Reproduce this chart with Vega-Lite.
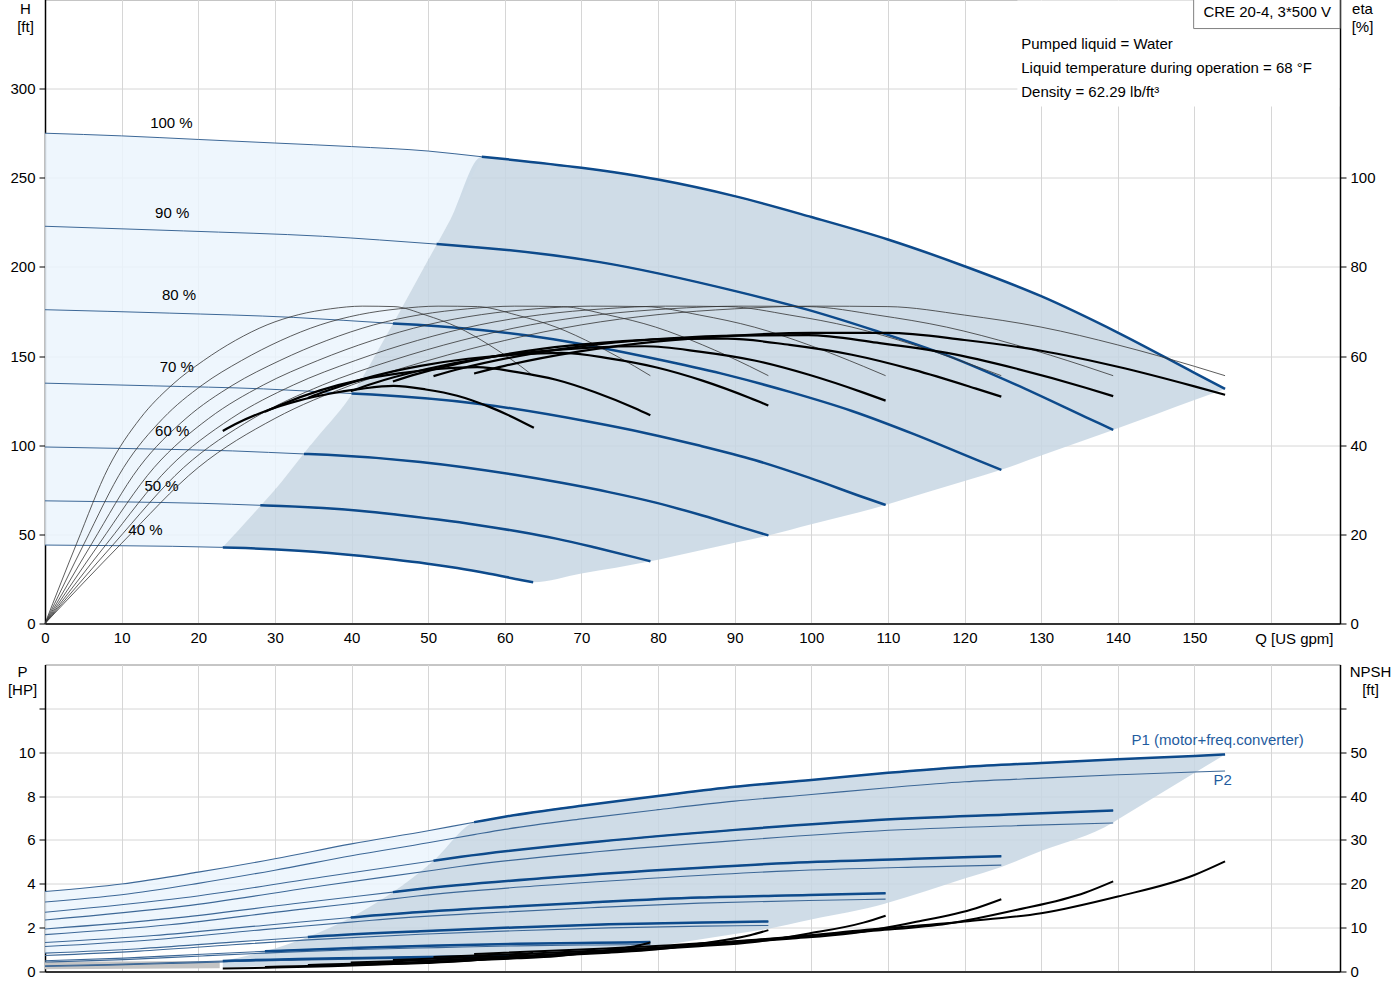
{
"$schema": "https://vega.github.io/schema/vega-lite/v6.json",
"background": "white",
"padding": {"left": 6, "top": -1.5, "right": 5, "bottom": 5},
"config": {
 "font": "Liberation Sans",
 "view": {"stroke": "#8C8C8C"},
 "axis": {"labelFont": "Liberation Sans", "labelFontSize": 15, "labelColor": "#000", "titleFont": "Liberation Sans", "titleFontSize": 15, "titleFontWeight": "normal", "titleColor": "#000", "gridColor": "#D6D6D6", "gridWidth": 1, "domainColor": "#000", "domainWidth": 1.5, "tickColor": "#000", "tickSize": 6, "labelPadding": 4, "labelFlush": false, "labelOverlap": false},
 "text": {"font": "Liberation Sans", "fontSize": 15}
},
"datasets": {
 "H": [
  {"s":100,"Q":0,"H":275,"op":0},{"s":100,"Q":10,"H":273.5,"op":0},{"s":100,"Q":20,"H":271.5,"op":0},{"s":100,"Q":30,"H":269.5,"op":0},{"s":100,"Q":40,"H":267.5,"op":0},{"s":100,"Q":50,"H":265,"op":0},{"s":100,"Q":57,"H":261.8,"op":1},{"s":100,"Q":60,"H":260.5,"op":1},{"s":100,"Q":70,"H":255.6,"op":1},{"s":100,"Q":80,"H":249,"op":1},{"s":100,"Q":90,"H":239.7,"op":1},{"s":100,"Q":100,"H":228,"op":1},{"s":100,"Q":110,"H":215.4,"op":1},{"s":100,"Q":120,"H":200.4,"op":1},{"s":100,"Q":130,"H":183.6,"op":1},{"s":100,"Q":140,"H":163.2,"op":1},{"s":100,"Q":150,"H":140.6,"op":1},{"s":100,"Q":154,"H":131.6,"op":1},
  {"s":90,"Q":0,"H":222.8,"op":0},{"s":90,"Q":18.1,"H":220.2,"op":0},{"s":90,"Q":36.2,"H":217.2,"op":0},{"s":90,"Q":51.1,"H":212.8,"op":1},{"s":90,"Q":54.3,"H":211.8,"op":1},{"s":90,"Q":72.4,"H":202.7,"op":1},{"s":90,"Q":90.5,"H":186,"op":1},{"s":90,"Q":99.6,"H":175.9,"op":1},{"s":90,"Q":108.6,"H":163.9,"op":1},{"s":90,"Q":117.7,"H":150.4,"op":1},{"s":90,"Q":126.7,"H":134,"op":1},{"s":90,"Q":135.8,"H":115.8,"op":1},{"s":90,"Q":139.4,"H":108.6,"op":1},
  {"s":80,"Q":0,"H":176,"op":0},{"s":80,"Q":16.2,"H":174.1,"op":0},{"s":80,"Q":32.4,"H":171.7,"op":0},{"s":80,"Q":45.4,"H":168.3,"op":1},{"s":80,"Q":48.6,"H":167.5,"op":1},{"s":80,"Q":64.8,"H":160.4,"op":1},{"s":80,"Q":81,"H":147.2,"op":1},{"s":80,"Q":89.1,"H":139.3,"op":1},{"s":80,"Q":97.2,"H":129.9,"op":1},{"s":80,"Q":105.3,"H":119.2,"op":1},{"s":80,"Q":113.4,"H":106.2,"op":1},{"s":80,"Q":121.5,"H":91.9,"op":1},{"s":80,"Q":124.8,"H":86.2,"op":1},
  {"s":70,"Q":0,"H":134.8,"op":0},{"s":70,"Q":14.2,"H":133.3,"op":0},{"s":70,"Q":28.5,"H":131.6,"op":0},{"s":70,"Q":40,"H":129,"op":1},{"s":70,"Q":42.7,"H":128.4,"op":1},{"s":70,"Q":57,"H":123,"op":1},{"s":70,"Q":71.2,"H":113,"op":1},{"s":70,"Q":78.3,"H":106.9,"op":1},{"s":70,"Q":85.4,"H":99.8,"op":1},{"s":70,"Q":92.6,"H":91.7,"op":1},{"s":70,"Q":99.7,"H":81.8,"op":1},{"s":70,"Q":106.8,"H":70.8,"op":1},{"s":70,"Q":109.7,"H":66.5,"op":1},
  {"s":60,"Q":0,"H":99,"op":0},{"s":60,"Q":12.3,"H":98,"op":0},{"s":60,"Q":24.5,"H":96.8,"op":0},{"s":60,"Q":33.8,"H":95.1,"op":1},{"s":60,"Q":36.8,"H":94.6,"op":1},{"s":60,"Q":49,"H":90.6,"op":1},{"s":60,"Q":61.3,"H":83.4,"op":1},{"s":60,"Q":67.4,"H":78.9,"op":1},{"s":60,"Q":73.6,"H":73.7,"op":1},{"s":60,"Q":79.7,"H":67.8,"op":1},{"s":60,"Q":85.8,"H":60.6,"op":1},{"s":60,"Q":92,"H":52.5,"op":1},{"s":60,"Q":94.4,"H":49.4,"op":1},
  {"s":50,"Q":0,"H":68.8,"op":0},{"s":50,"Q":10.3,"H":68.2,"op":0},{"s":50,"Q":20.5,"H":67.4,"op":0},{"s":50,"Q":28.1,"H":66.3,"op":1},{"s":50,"Q":30.8,"H":65.9,"op":1},{"s":50,"Q":41,"H":63.3,"op":1},{"s":50,"Q":51.3,"H":58.3,"op":1},{"s":50,"Q":56.4,"H":55.3,"op":1},{"s":50,"Q":61.6,"H":51.7,"op":1},{"s":50,"Q":66.7,"H":47.6,"op":1},{"s":50,"Q":71.8,"H":42.6,"op":1},{"s":50,"Q":77,"H":37.1,"op":1},{"s":50,"Q":79,"H":34.9,"op":1},
  {"s":40,"Q":0,"H":44,"op":0},{"s":40,"Q":8.3,"H":43.7,"op":0},{"s":40,"Q":16.6,"H":43.3,"op":0},{"s":40,"Q":23.2,"H":42.7,"op":1},{"s":40,"Q":24.8,"H":42.5,"op":1},{"s":40,"Q":33.1,"H":40.8,"op":1},{"s":40,"Q":41.4,"H":37.8,"op":1},{"s":40,"Q":45.5,"H":35.9,"op":1},{"s":40,"Q":49.7,"H":33.7,"op":1},{"s":40,"Q":53.8,"H":31.1,"op":1},{"s":40,"Q":58,"H":27.9,"op":1},{"s":40,"Q":62.1,"H":24.4,"op":1},{"s":40,"Q":63.7,"H":23.1,"op":1}
 ],
 "topArea": [
  {"z":"light","Q":0,"hi":275,"lo":44},{"z":"light","Q":8.3,"hi":274,"lo":43.7},{"z":"light","Q":16.6,"hi":272.2,"lo":43.3},{"z":"light","Q":23.2,"hi":270.8,"lo":42.7},{"z":"light","Q":25,"hi":270.5,"lo":51.2},{"z":"light","Q":28.1,"hi":269.9,"lo":65.9},{"z":"light","Q":29.8,"hi":269.5,"lo":74},{"z":"light","Q":33.8,"hi":268.7,"lo":95.5},{"z":"light","Q":35,"hi":268.5,"lo":101.8},{"z":"light","Q":39.8,"hi":267.5,"lo":127},{"z":"light","Q":45,"hi":266.2,"lo":165},{"z":"light","Q":50,"hi":265,"lo":204},{"z":"light","Q":52.9,"hi":264,"lo":226.6},{"z":"light","Q":57,"hi":261.8,"lo":261.8},
  {"z":"dark","Q":23.2,"hi":42.7,"lo":42.7},{"z":"dark","Q":25,"hi":51.2,"lo":42.5},{"z":"dark","Q":28.1,"hi":65.9,"lo":41.8},{"z":"dark","Q":29.8,"hi":74,"lo":41.5},{"z":"dark","Q":33.8,"hi":95.5,"lo":40.55},{"z":"dark","Q":35,"hi":101.8,"lo":40.1},{"z":"dark","Q":39.8,"hi":127,"lo":38.4},{"z":"dark","Q":45,"hi":165,"lo":36.1},{"z":"dark","Q":50,"hi":204,"lo":33.5},{"z":"dark","Q":52.9,"hi":226.6,"lo":31.7},{"z":"dark","Q":57,"hi":261.8,"lo":28.7},{"z":"dark","Q":60,"hi":260.5,"lo":26.2},{"z":"dark","Q":63.7,"hi":258.7,"lo":23.1},{"z":"dark","Q":70,"hi":255.6,"lo":28},{"z":"dark","Q":79,"hi":249.7,"lo":34.9},{"z":"dark","Q":80,"hi":249,"lo":35.8},{"z":"dark","Q":90,"hi":239.7,"lo":45.3},{"z":"dark","Q":94.4,"hi":234.6,"lo":49.4},{"z":"dark","Q":100,"hi":228,"lo":55.7},{"z":"dark","Q":109.7,"hi":215.8,"lo":66.5},{"z":"dark","Q":110,"hi":215.4,"lo":66.9},{"z":"dark","Q":120,"hi":200.4,"lo":79.9},{"z":"dark","Q":124.8,"hi":192.5,"lo":86.2},{"z":"dark","Q":130,"hi":183.6,"lo":94.2},{"z":"dark","Q":139.4,"hi":164.5,"lo":108.6},{"z":"dark","Q":140,"hi":163.2,"lo":109.5},{"z":"dark","Q":150,"hi":140.6,"lo":125.3},{"z":"dark","Q":154,"hi":131.6,"lo":131.6}
 ],
 "labels": [
  {"t":"100 %","Q":16.5,"H":281},{"t":"90 %","Q":16.6,"H":230.5},{"t":"80 %","Q":17.5,"H":184.5},{"t":"70 %","Q":17.2,"H":143.6},{"t":"60 %","Q":16.6,"H":107.7},{"t":"50 %","Q":15.2,"H":77.4},{"t":"40 %","Q":13.1,"H":52.7}
 ],
 "eta": [
  {"s":100,"k":"pump","Q":0,"e":0},{"s":100,"k":"pump","Q":10,"e":18},{"s":100,"k":"pump","Q":20,"e":35},{"s":100,"k":"pump","Q":30,"e":46},{"s":100,"k":"pump","Q":40,"e":53.5},{"s":100,"k":"pump","Q":50,"e":59},{"s":100,"k":"pump","Q":60,"e":63.5},{"s":100,"k":"pump","Q":70,"e":67},{"s":100,"k":"pump","Q":80,"e":69.3},{"s":100,"k":"pump","Q":90,"e":70.6},{"s":100,"k":"pump","Q":100,"e":71.2},{"s":100,"k":"pump","Q":110,"e":71.1},{"s":100,"k":"pump","Q":120,"e":69.2},{"s":100,"k":"pump","Q":130,"e":66.5},{"s":100,"k":"pump","Q":140,"e":62.5},{"s":100,"k":"pump","Q":150,"e":57.7},{"s":100,"k":"pump","Q":154,"e":55.6},
  {"s":90,"k":"pump","Q":0,"e":0},{"s":90,"k":"pump","Q":9.05,"e":18},{"s":90,"k":"pump","Q":18.1,"e":35},{"s":90,"k":"pump","Q":27.15,"e":46},{"s":90,"k":"pump","Q":36.2,"e":53.5},{"s":90,"k":"pump","Q":45.25,"e":59},{"s":90,"k":"pump","Q":54.3,"e":63.5},{"s":90,"k":"pump","Q":63.35,"e":67},{"s":90,"k":"pump","Q":72.4,"e":69.3},{"s":90,"k":"pump","Q":81.45,"e":70.6},{"s":90,"k":"pump","Q":90.5,"e":71.2},{"s":90,"k":"pump","Q":99.55,"e":71.1},{"s":90,"k":"pump","Q":108.6,"e":69.2},{"s":90,"k":"pump","Q":117.65,"e":66.5},{"s":90,"k":"pump","Q":126.7,"e":62.5},{"s":90,"k":"pump","Q":135.75,"e":57.7},{"s":90,"k":"pump","Q":139.4,"e":55.6},
  {"s":80,"k":"pump","Q":0,"e":0},{"s":80,"k":"pump","Q":8.1,"e":18},{"s":80,"k":"pump","Q":16.2,"e":35},{"s":80,"k":"pump","Q":24.3,"e":46},{"s":80,"k":"pump","Q":32.4,"e":53.5},{"s":80,"k":"pump","Q":40.5,"e":59},{"s":80,"k":"pump","Q":48.6,"e":63.5},{"s":80,"k":"pump","Q":56.7,"e":67},{"s":80,"k":"pump","Q":64.8,"e":69.3},{"s":80,"k":"pump","Q":72.9,"e":70.6},{"s":80,"k":"pump","Q":81,"e":71.2},{"s":80,"k":"pump","Q":89.1,"e":71.1},{"s":80,"k":"pump","Q":97.2,"e":69.2},{"s":80,"k":"pump","Q":105.3,"e":66.5},{"s":80,"k":"pump","Q":113.4,"e":62.5},{"s":80,"k":"pump","Q":121.5,"e":57.7},{"s":80,"k":"pump","Q":124.8,"e":55.6},
  {"s":70,"k":"pump","Q":0,"e":0},{"s":70,"k":"pump","Q":7.12,"e":18},{"s":70,"k":"pump","Q":14.24,"e":35},{"s":70,"k":"pump","Q":21.36,"e":46},{"s":70,"k":"pump","Q":28.48,"e":53.5},{"s":70,"k":"pump","Q":35.6,"e":59},{"s":70,"k":"pump","Q":42.72,"e":63.5},{"s":70,"k":"pump","Q":49.84,"e":67},{"s":70,"k":"pump","Q":56.96,"e":69.3},{"s":70,"k":"pump","Q":64.08,"e":70.6},{"s":70,"k":"pump","Q":71.2,"e":71.2},{"s":70,"k":"pump","Q":78.32,"e":71.1},{"s":70,"k":"pump","Q":85.44,"e":69.2},{"s":70,"k":"pump","Q":92.56,"e":66.5},{"s":70,"k":"pump","Q":99.68,"e":62.5},{"s":70,"k":"pump","Q":106.8,"e":57.7},{"s":70,"k":"pump","Q":109.7,"e":55.6},
  {"s":60,"k":"pump","Q":0,"e":0},{"s":60,"k":"pump","Q":6.13,"e":18},{"s":60,"k":"pump","Q":12.26,"e":35},{"s":60,"k":"pump","Q":18.39,"e":46},{"s":60,"k":"pump","Q":24.52,"e":53.5},{"s":60,"k":"pump","Q":30.65,"e":59},{"s":60,"k":"pump","Q":36.78,"e":63.5},{"s":60,"k":"pump","Q":42.91,"e":67},{"s":60,"k":"pump","Q":49.04,"e":69.3},{"s":60,"k":"pump","Q":55.17,"e":70.6},{"s":60,"k":"pump","Q":61.3,"e":71.2},{"s":60,"k":"pump","Q":67.43,"e":71.1},{"s":60,"k":"pump","Q":73.56,"e":69.2},{"s":60,"k":"pump","Q":79.69,"e":66.5},{"s":60,"k":"pump","Q":85.82,"e":62.5},{"s":60,"k":"pump","Q":91.95,"e":57.7},{"s":60,"k":"pump","Q":94.4,"e":55.6},
  {"s":50,"k":"pump","Q":0,"e":0},{"s":50,"k":"pump","Q":5.13,"e":18},{"s":50,"k":"pump","Q":10.26,"e":35},{"s":50,"k":"pump","Q":15.39,"e":46},{"s":50,"k":"pump","Q":20.52,"e":53.5},{"s":50,"k":"pump","Q":25.65,"e":59},{"s":50,"k":"pump","Q":30.78,"e":63.5},{"s":50,"k":"pump","Q":35.91,"e":67},{"s":50,"k":"pump","Q":41.04,"e":69.3},{"s":50,"k":"pump","Q":46.17,"e":70.6},{"s":50,"k":"pump","Q":51.3,"e":71.2},{"s":50,"k":"pump","Q":56.43,"e":71.1},{"s":50,"k":"pump","Q":61.56,"e":69.2},{"s":50,"k":"pump","Q":66.69,"e":66.5},{"s":50,"k":"pump","Q":71.82,"e":62.5},{"s":50,"k":"pump","Q":76.95,"e":57.7},{"s":50,"k":"pump","Q":79,"e":55.6},
  {"s":40,"k":"pump","Q":0,"e":0},{"s":40,"k":"pump","Q":4.14,"e":18},{"s":40,"k":"pump","Q":8.28,"e":35},{"s":40,"k":"pump","Q":12.42,"e":46},{"s":40,"k":"pump","Q":16.56,"e":53.5},{"s":40,"k":"pump","Q":20.7,"e":59},{"s":40,"k":"pump","Q":24.84,"e":63.5},{"s":40,"k":"pump","Q":28.98,"e":67},{"s":40,"k":"pump","Q":33.12,"e":69.3},{"s":40,"k":"pump","Q":37.26,"e":70.6},{"s":40,"k":"pump","Q":41.4,"e":71.2},{"s":40,"k":"pump","Q":45.54,"e":71.1},{"s":40,"k":"pump","Q":49.68,"e":69.2},{"s":40,"k":"pump","Q":53.82,"e":66.5},{"s":40,"k":"pump","Q":57.96,"e":62.5},{"s":40,"k":"pump","Q":62.1,"e":57.7},{"s":40,"k":"pump","Q":63.7,"e":55.6},
  {"s":100,"k":"total","Q":56,"e":56.1},{"s":100,"k":"total","Q":60,"e":57.8},{"s":100,"k":"total","Q":70,"e":61.1},{"s":100,"k":"total","Q":80,"e":63.3},{"s":100,"k":"total","Q":90,"e":64.6},{"s":100,"k":"total","Q":100,"e":65.2},{"s":100,"k":"total","Q":110,"e":65.2},{"s":100,"k":"total","Q":120,"e":63.6},{"s":100,"k":"total","Q":130,"e":61.2},{"s":100,"k":"total","Q":140,"e":57.6},{"s":100,"k":"total","Q":150,"e":53.2},{"s":100,"k":"total","Q":154,"e":51.3},
  {"s":90,"k":"total","Q":50.7,"e":55.5},{"s":90,"k":"total","Q":54.3,"e":57.2},{"s":90,"k":"total","Q":63.4,"e":60.5},{"s":90,"k":"total","Q":72.4,"e":62.7},{"s":90,"k":"total","Q":81.5,"e":64},{"s":90,"k":"total","Q":90.5,"e":64.6},{"s":90,"k":"total","Q":99.6,"e":64.7},{"s":90,"k":"total","Q":108.6,"e":63},{"s":90,"k":"total","Q":117.7,"e":60.7},{"s":90,"k":"total","Q":126.7,"e":57.2},{"s":90,"k":"total","Q":135.8,"e":52.9},{"s":90,"k":"total","Q":139.4,"e":51},
  {"s":80,"k":"total","Q":45.4,"e":54.3},{"s":80,"k":"total","Q":48.6,"e":56},{"s":80,"k":"total","Q":56.7,"e":59.3},{"s":80,"k":"total","Q":64.8,"e":61.6},{"s":80,"k":"total","Q":72.9,"e":63},{"s":80,"k":"total","Q":81,"e":63.8},{"s":80,"k":"total","Q":89.1,"e":63.9},{"s":80,"k":"total","Q":97.2,"e":62.5},{"s":80,"k":"total","Q":105.3,"e":60.3},{"s":80,"k":"total","Q":113.4,"e":56.9},{"s":80,"k":"total","Q":121.5,"e":52.7},{"s":80,"k":"total","Q":124.8,"e":50.9},
  {"s":70,"k":"total","Q":39.9,"e":52.1},{"s":70,"k":"total","Q":42.7,"e":53.8},{"s":70,"k":"total","Q":49.8,"e":57.1},{"s":70,"k":"total","Q":57,"e":59.5},{"s":70,"k":"total","Q":64.1,"e":61},{"s":70,"k":"total","Q":71.2,"e":61.9},{"s":70,"k":"total","Q":78.3,"e":62.2},{"s":70,"k":"total","Q":85.4,"e":61},{"s":70,"k":"total","Q":92.6,"e":59},{"s":70,"k":"total","Q":99.7,"e":55.8},{"s":70,"k":"total","Q":106.8,"e":51.8},{"s":70,"k":"total","Q":109.7,"e":50},
  {"s":60,"k":"total","Q":34.3,"e":50.6},{"s":60,"k":"total","Q":36.8,"e":52.2},{"s":60,"k":"total","Q":42.9,"e":55.5},{"s":60,"k":"total","Q":49,"e":57.8},{"s":60,"k":"total","Q":55.2,"e":59.4},{"s":60,"k":"total","Q":61.3,"e":60.3},{"s":60,"k":"total","Q":67.4,"e":60.7},{"s":60,"k":"total","Q":73.6,"e":59.5},{"s":60,"k":"total","Q":79.7,"e":57.5},{"s":60,"k":"total","Q":85.8,"e":54.5},{"s":60,"k":"total","Q":92,"e":50.6},{"s":60,"k":"total","Q":94.4,"e":48.9},
  {"s":50,"k":"total","Q":28.7,"e":47.5},{"s":50,"k":"total","Q":30.8,"e":49.1},{"s":50,"k":"total","Q":35.9,"e":52.3},{"s":50,"k":"total","Q":41,"e":54.6},{"s":50,"k":"total","Q":46.2,"e":56.1},{"s":50,"k":"total","Q":51.3,"e":57.1},{"s":50,"k":"total","Q":56.4,"e":57.5},{"s":50,"k":"total","Q":61.6,"e":56.4},{"s":50,"k":"total","Q":66.7,"e":54.7},{"s":50,"k":"total","Q":71.8,"e":51.9},{"s":50,"k":"total","Q":77,"e":48.3},{"s":50,"k":"total","Q":79,"e":46.7},
  {"s":40,"k":"total","Q":23.2,"e":43.2},{"s":40,"k":"total","Q":24.8,"e":44.7},{"s":40,"k":"total","Q":29,"e":47.8},{"s":40,"k":"total","Q":33.1,"e":50},{"s":40,"k":"total","Q":37.3,"e":51.6},{"s":40,"k":"total","Q":41.4,"e":52.7},{"s":40,"k":"total","Q":45.5,"e":53.3},{"s":40,"k":"total","Q":49.7,"e":52.5},{"s":40,"k":"total","Q":53.8,"e":51.1},{"s":40,"k":"total","Q":58,"e":48.6},{"s":40,"k":"total","Q":62.1,"e":45.4},{"s":40,"k":"total","Q":63.8,"e":43.9}
 ],
 "botArea": [
  {"z":"grey","Q":0,"hi":0.45,"lo":0.1},{"z":"grey","Q":22.8,"hi":0.48,"lo":0.15},
  {"z":"light","Q":0,"hi":3.65,"lo":0.84},{"z":"light","Q":12.3,"hi":4.11,"lo":1.04},{"z":"light","Q":20,"hi":4.53,"lo":1.23},{"z":"light","Q":24.5,"hi":4.8,"lo":1.34},{"z":"light","Q":30,"hi":5.14,"lo":1.47},{"z":"light","Q":34.3,"hi":5.43,"lo":1.57},{"z":"light","Q":39.9,"hi":5.81,"lo":2.46},{"z":"light","Q":45.4,"hi":6.14,"lo":3.62},{"z":"light","Q":50.7,"hi":6.46,"lo":5.05},{"z":"light","Q":56,"hi":6.81,"lo":6.81},
  {"z":"dark","Q":23.2,"hi":0.48,"lo":0.18},{"z":"dark","Q":28.7,"hi":0.92,"lo":0.24},{"z":"dark","Q":34.3,"hi":1.57,"lo":0.3},{"z":"dark","Q":39.9,"hi":2.46,"lo":0.35},{"z":"dark","Q":45.4,"hi":3.62,"lo":0.4},{"z":"dark","Q":50.7,"hi":5.05,"lo":0.46},{"z":"dark","Q":56,"hi":6.81,"lo":0.52},{"z":"dark","Q":60,"hi":7.06,"lo":0.56},{"z":"dark","Q":63.7,"hi":7.24,"lo":0.6},{"z":"dark","Q":70,"hi":7.56,"lo":0.81},{"z":"dark","Q":79,"hi":7.96,"lo":1.1},{"z":"dark","Q":80,"hi":8,"lo":1.16},{"z":"dark","Q":90,"hi":8.42,"lo":1.71},{"z":"dark","Q":94.4,"hi":8.56,"lo":1.95},{"z":"dark","Q":100,"hi":8.73,"lo":2.37},{"z":"dark","Q":109.7,"hi":9.05,"lo":3.1},{"z":"dark","Q":110,"hi":9.06,"lo":3.13},{"z":"dark","Q":120,"hi":9.33,"lo":4.24},{"z":"dark","Q":124.8,"hi":9.42,"lo":4.77},{"z":"dark","Q":130,"hi":9.51,"lo":5.49},{"z":"dark","Q":139.4,"hi":9.68,"lo":6.8},{"z":"dark","Q":140,"hi":9.68,"lo":6.93},{"z":"dark","Q":150,"hi":9.83,"lo":9.05},{"z":"dark","Q":154,"hi":9.9,"lo":9.9}
 ],
 "P": [
  {"s":100,"k":"P1","Q":0,"P":3.65,"op":0},{"s":100,"k":"P1","Q":10,"P":3.99,"op":0},{"s":100,"k":"P1","Q":20,"P":4.53,"op":0},{"s":100,"k":"P1","Q":30,"P":5.14,"op":0},{"s":100,"k":"P1","Q":40,"P":5.82,"op":0},{"s":100,"k":"P1","Q":50,"P":6.42,"op":0},{"s":100,"k":"P1","Q":56,"P":6.81,"op":1},{"s":100,"k":"P1","Q":60,"P":7.06,"op":1},{"s":100,"k":"P1","Q":70,"P":7.56,"op":1},{"s":100,"k":"P1","Q":80,"P":8.0,"op":1},{"s":100,"k":"P1","Q":90,"P":8.42,"op":1},{"s":100,"k":"P1","Q":100,"P":8.73,"op":1},{"s":100,"k":"P1","Q":110,"P":9.06,"op":1},{"s":100,"k":"P1","Q":120,"P":9.33,"op":1},{"s":100,"k":"P1","Q":130,"P":9.51,"op":1},{"s":100,"k":"P1","Q":140,"P":9.68,"op":1},{"s":100,"k":"P1","Q":150,"P":9.83,"op":1},{"s":100,"k":"P1","Q":154,"P":9.9,"op":1},
  {"s":100,"k":"P2","Q":0,"P":3.17,"op":0},{"s":100,"k":"P2","Q":10,"P":3.5,"op":0},{"s":100,"k":"P2","Q":20,"P":4.02,"op":0},{"s":100,"k":"P2","Q":30,"P":4.62,"op":0},{"s":100,"k":"P2","Q":40,"P":5.28,"op":0},{"s":100,"k":"P2","Q":50,"P":5.87,"op":0},{"s":100,"k":"P2","Q":56,"P":6.24,"op":1},{"s":100,"k":"P2","Q":60,"P":6.48,"op":1},{"s":100,"k":"P2","Q":70,"P":6.96,"op":1},{"s":100,"k":"P2","Q":80,"P":7.38,"op":1},{"s":100,"k":"P2","Q":90,"P":7.77,"op":1},{"s":100,"k":"P2","Q":100,"P":8.07,"op":1},{"s":100,"k":"P2","Q":110,"P":8.38,"op":1},{"s":100,"k":"P2","Q":120,"P":8.65,"op":1},{"s":100,"k":"P2","Q":130,"P":8.82,"op":1},{"s":100,"k":"P2","Q":140,"P":8.97,"op":1},{"s":100,"k":"P2","Q":150,"P":9.1,"op":1},{"s":100,"k":"P2","Q":154,"P":9.14,"op":1},
  {"s":90,"k":"P1","Q":0,"P":2.7,"op":0},{"s":90,"k":"P1","Q":18.1,"P":3.36,"op":0},{"s":90,"k":"P1","Q":36.2,"P":4.31,"op":0},{"s":90,"k":"P1","Q":50.7,"P":5.05,"op":1},{"s":90,"k":"P1","Q":54.3,"P":5.23,"op":1},{"s":90,"k":"P1","Q":72.4,"P":5.93,"op":1},{"s":90,"k":"P1","Q":90.5,"P":6.47,"op":1},{"s":90,"k":"P1","Q":108.6,"P":6.91,"op":1},{"s":90,"k":"P1","Q":126.7,"P":7.17,"op":1},{"s":90,"k":"P1","Q":139.4,"P":7.34,"op":1},
  {"s":90,"k":"P2","Q":0,"P":2.35,"op":0},{"s":90,"k":"P2","Q":18.1,"P":2.98,"op":0},{"s":90,"k":"P2","Q":36.2,"P":3.91,"op":0},{"s":90,"k":"P2","Q":50.7,"P":4.62,"op":1},{"s":90,"k":"P2","Q":54.3,"P":4.8,"op":1},{"s":90,"k":"P2","Q":72.4,"P":5.47,"op":1},{"s":90,"k":"P2","Q":90.5,"P":5.98,"op":1},{"s":90,"k":"P2","Q":108.6,"P":6.41,"op":1},{"s":90,"k":"P2","Q":126.7,"P":6.65,"op":1},{"s":90,"k":"P2","Q":139.4,"P":6.77,"op":1},
  {"s":80,"k":"P1","Q":0,"P":1.94,"op":0},{"s":80,"k":"P1","Q":16.2,"P":2.41,"op":0},{"s":80,"k":"P1","Q":32.4,"P":3.09,"op":0},{"s":80,"k":"P1","Q":45.4,"P":3.62,"op":1},{"s":80,"k":"P1","Q":48.6,"P":3.75,"op":1},{"s":80,"k":"P1","Q":64.8,"P":4.25,"op":1},{"s":80,"k":"P1","Q":81,"P":4.64,"op":1},{"s":80,"k":"P1","Q":97.2,"P":4.95,"op":1},{"s":80,"k":"P1","Q":113.4,"P":5.14,"op":1},{"s":80,"k":"P1","Q":124.8,"P":5.26,"op":1},
  {"s":80,"k":"P2","Q":0,"P":1.68,"op":0},{"s":80,"k":"P2","Q":16.2,"P":2.13,"op":0},{"s":80,"k":"P2","Q":32.4,"P":2.8,"op":0},{"s":80,"k":"P2","Q":45.4,"P":3.31,"op":1},{"s":80,"k":"P2","Q":48.6,"P":3.44,"op":1},{"s":80,"k":"P2","Q":64.8,"P":3.92,"op":1},{"s":80,"k":"P2","Q":81,"P":4.29,"op":1},{"s":80,"k":"P2","Q":97.2,"P":4.59,"op":1},{"s":80,"k":"P2","Q":113.4,"P":4.76,"op":1},{"s":80,"k":"P2","Q":124.8,"P":4.85,"op":1},
  {"s":70,"k":"P1","Q":0,"P":1.32,"op":0},{"s":70,"k":"P1","Q":14.2,"P":1.64,"op":0},{"s":70,"k":"P1","Q":28.5,"P":2.1,"op":0},{"s":70,"k":"P1","Q":39.9,"P":2.46,"op":1},{"s":70,"k":"P1","Q":42.7,"P":2.55,"op":1},{"s":70,"k":"P1","Q":57,"P":2.89,"op":1},{"s":70,"k":"P1","Q":71.2,"P":3.15,"op":1},{"s":70,"k":"P1","Q":85.4,"P":3.37,"op":1},{"s":70,"k":"P1","Q":99.7,"P":3.49,"op":1},{"s":70,"k":"P1","Q":109.7,"P":3.57,"op":1},
  {"s":70,"k":"P2","Q":0,"P":1.14,"op":0},{"s":70,"k":"P2","Q":14.2,"P":1.45,"op":0},{"s":70,"k":"P2","Q":28.5,"P":1.91,"op":0},{"s":70,"k":"P2","Q":39.9,"P":2.25,"op":1},{"s":70,"k":"P2","Q":42.7,"P":2.34,"op":1},{"s":70,"k":"P2","Q":57,"P":2.66,"op":1},{"s":70,"k":"P2","Q":71.2,"P":2.91,"op":1},{"s":70,"k":"P2","Q":85.4,"P":3.12,"op":1},{"s":70,"k":"P2","Q":99.7,"P":3.24,"op":1},{"s":70,"k":"P2","Q":109.7,"P":3.3,"op":1},
  {"s":60,"k":"P1","Q":0,"P":0.84,"op":0},{"s":60,"k":"P1","Q":12.3,"P":1.04,"op":0},{"s":60,"k":"P1","Q":24.5,"P":1.34,"op":0},{"s":60,"k":"P1","Q":34.3,"P":1.57,"op":1},{"s":60,"k":"P1","Q":36.8,"P":1.63,"op":1},{"s":60,"k":"P1","Q":49,"P":1.84,"op":1},{"s":60,"k":"P1","Q":61.3,"P":2.01,"op":1},{"s":60,"k":"P1","Q":73.6,"P":2.15,"op":1},{"s":60,"k":"P1","Q":85.8,"P":2.23,"op":1},{"s":60,"k":"P1","Q":94.4,"P":2.28,"op":1},
  {"s":60,"k":"P2","Q":0,"P":0.73,"op":0},{"s":60,"k":"P2","Q":12.3,"P":0.93,"op":0},{"s":60,"k":"P2","Q":24.5,"P":1.22,"op":0},{"s":60,"k":"P2","Q":34.3,"P":1.44,"op":1},{"s":60,"k":"P2","Q":36.8,"P":1.49,"op":1},{"s":60,"k":"P2","Q":49,"P":1.7,"op":1},{"s":60,"k":"P2","Q":61.3,"P":1.86,"op":1},{"s":60,"k":"P2","Q":73.6,"P":1.99,"op":1},{"s":60,"k":"P2","Q":85.8,"P":2.07,"op":1},{"s":60,"k":"P2","Q":94.4,"P":2.1,"op":1},
  {"s":50,"k":"P1","Q":0,"P":0.49,"op":0},{"s":50,"k":"P1","Q":10.3,"P":0.61,"op":0},{"s":50,"k":"P1","Q":20.5,"P":0.79,"op":0},{"s":50,"k":"P1","Q":28.7,"P":0.92,"op":1},{"s":50,"k":"P1","Q":30.8,"P":0.95,"op":1},{"s":50,"k":"P1","Q":41,"P":1.08,"op":1},{"s":50,"k":"P1","Q":51.3,"P":1.18,"op":1},{"s":50,"k":"P1","Q":61.6,"P":1.26,"op":1},{"s":50,"k":"P1","Q":71.8,"P":1.31,"op":1},{"s":50,"k":"P1","Q":79,"P":1.34,"op":1},
  {"s":50,"k":"P2","Q":0,"P":0.43,"op":0},{"s":50,"k":"P2","Q":10.3,"P":0.54,"op":0},{"s":50,"k":"P2","Q":20.5,"P":0.71,"op":0},{"s":50,"k":"P2","Q":28.7,"P":0.84,"op":1},{"s":50,"k":"P2","Q":30.8,"P":0.87,"op":1},{"s":50,"k":"P2","Q":41,"P":1.0,"op":1},{"s":50,"k":"P2","Q":51.3,"P":1.09,"op":1},{"s":50,"k":"P2","Q":61.6,"P":1.17,"op":1},{"s":50,"k":"P2","Q":71.8,"P":1.21,"op":1},{"s":50,"k":"P2","Q":79,"P":1.23,"op":1},
  {"s":40,"k":"P1","Q":0,"P":0.26,"op":0},{"s":40,"k":"P1","Q":8.3,"P":0.32,"op":0},{"s":40,"k":"P1","Q":16.6,"P":0.41,"op":0},{"s":40,"k":"P1","Q":23.2,"P":0.48,"op":1},{"s":40,"k":"P1","Q":24.8,"P":0.5,"op":1},{"s":40,"k":"P1","Q":33.1,"P":0.57,"op":1},{"s":40,"k":"P1","Q":41.4,"P":0.62,"op":1},{"s":40,"k":"P1","Q":49.7,"P":0.66,"op":1},{"s":40,"k":"P1","Q":58,"P":0.69,"op":1},{"s":40,"k":"P1","Q":63.7,"P":0.7,"op":1},
  {"s":40,"k":"P2","Q":0,"P":0.23,"op":0},{"s":40,"k":"P2","Q":8.3,"P":0.29,"op":0},{"s":40,"k":"P2","Q":16.6,"P":0.37,"op":0},{"s":40,"k":"P2","Q":23.2,"P":0.44,"op":1},{"s":40,"k":"P2","Q":24.8,"P":0.46,"op":1},{"s":40,"k":"P2","Q":33.1,"P":0.52,"op":1},{"s":40,"k":"P2","Q":41.4,"P":0.57,"op":1},{"s":40,"k":"P2","Q":49.7,"P":0.61,"op":1},{"s":40,"k":"P2","Q":58,"P":0.64,"op":1},{"s":40,"k":"P2","Q":63.7,"P":0.65,"op":1}
 ],
 "npsh": [
  {"s":100,"Q":56,"N":4.0},{"s":100,"Q":70,"N":5.0},{"s":100,"Q":90,"N":6.9},{"s":100,"Q":110,"N":9.9},{"s":100,"Q":120,"N":11.4},{"s":100,"Q":130,"N":13.3},{"s":100,"Q":140,"N":17.1},{"s":100,"Q":150,"N":22.0},{"s":100,"Q":154,"N":25.1},
  {"s":90,"Q":50.7,"N":3.28},{"s":90,"Q":63.4,"N":4.1},{"s":90,"Q":81.5,"N":5.65},{"s":90,"Q":99.6,"N":8.11},{"s":90,"Q":108.6,"N":9.34},{"s":90,"Q":117.7,"N":10.89},{"s":90,"Q":126.7,"N":14.0},{"s":90,"Q":135.8,"N":18.02},{"s":90,"Q":139.4,"N":20.56},
  {"s":80,"Q":45.4,"N":2.62},{"s":80,"Q":56.7,"N":3.28},{"s":80,"Q":72.9,"N":4.53},{"s":80,"Q":89.1,"N":6.49},{"s":80,"Q":97.2,"N":7.48},{"s":80,"Q":105.3,"N":8.72},{"s":80,"Q":113.4,"N":11.22},{"s":80,"Q":121.5,"N":14.43},{"s":80,"Q":124.8,"N":16.47},
  {"s":70,"Q":39.9,"N":2.03},{"s":70,"Q":49.8,"N":2.54},{"s":70,"Q":64.1,"N":3.5},{"s":70,"Q":78.3,"N":5.02},{"s":70,"Q":85.4,"N":5.78},{"s":70,"Q":92.6,"N":6.74},{"s":70,"Q":99.7,"N":8.67},{"s":70,"Q":106.8,"N":11.15},{"s":70,"Q":109.7,"N":12.73},
  {"s":60,"Q":34.3,"N":1.5},{"s":60,"Q":42.9,"N":1.88},{"s":60,"Q":55.2,"N":2.59},{"s":60,"Q":67.4,"N":3.72},{"s":60,"Q":73.6,"N":4.29},{"s":60,"Q":79.7,"N":5.0},{"s":60,"Q":85.8,"N":6.43},{"s":60,"Q":92,"N":8.27},{"s":60,"Q":94.4,"N":9.44},
  {"s":50,"Q":28.7,"N":1.05},{"s":50,"Q":35.9,"N":1.32},{"s":50,"Q":46.2,"N":1.81},{"s":50,"Q":56.4,"N":2.6},{"s":50,"Q":61.6,"N":3.0},{"s":50,"Q":66.7,"N":3.5},{"s":50,"Q":71.8,"N":4.5},{"s":50,"Q":77,"N":5.79},{"s":50,"Q":79,"N":6.6},
  {"s":40,"Q":23.2,"N":0.68},{"s":40,"Q":29,"N":0.86},{"s":40,"Q":37.3,"N":1.18},{"s":40,"Q":45.5,"N":1.69},{"s":40,"Q":49.7,"N":1.95},{"s":40,"Q":53.8,"N":2.27},{"s":40,"Q":58,"N":2.92},{"s":40,"Q":62.1,"N":3.76},{"s":40,"Q":63.7,"N":4.29}
 ],
 "plabels": [
  {"t":"P1 (motor+freq.converter)","Q":141.8,"P":10.55},{"t":"P2","Q":152.5,"P":8.73}
 ]
},
"spacing": 41,
"bounds": "flush",
"vconcat": [
 {
  "width": 1295, "height": 624,
  "resolve": {"scale": {"y": "independent"}},
  "layer": [
   {"layer": [
    {"data": {"name": "topArea"}, "transform": [{"filter": "datum.z == 'light'"}],
     "mark": {"type": "area", "color": "#EBF4FD", "opacity": 0.85, "interpolate": "monotone"},
     "encoding": {
      "x": {"field": "Q", "type": "quantitative", "scale": {"domain": [0, 169], "nice": false, "zero": false},
            "axis": {"values": [0,10,20,30,40,50,60,70,80,90,100,110,120,130,140,150,160], "labelExpr": "datum.value > 155 ? '' : datum.label", "ticks": false, "labelPadding": 7, "grid": true, "title": "Q [US gpm]", "titleX": 1288, "titleY": 15, "titleAlign": "right", "titleBaseline": "middle", "titleAngle": 0}},
      "y": {"field": "hi", "type": "quantitative", "scale": {"domain": [0, 350], "nice": false},
            "axis": {"values": [0,50,100,150,200,250,300], "grid": true, "title": ["H", "[ft]"], "titleAngle": 0, "titleX": -20, "titleY": 1.5, "titleAlign": "center", "titleBaseline": "top", "titleLineHeight": 18}},
      "y2": {"field": "lo"}
     }},
    {"data": {"name": "topArea"}, "transform": [{"filter": "datum.z == 'dark'"}],
     "mark": {"type": "area", "color": "#C7D6E3", "opacity": 0.85, "interpolate": "monotone"},
     "encoding": {
      "x": {"field": "Q", "type": "quantitative", "scale": {"domain": [0, 169], "nice": false}},
      "y": {"field": "hi", "type": "quantitative", "scale": {"domain": [0, 350], "nice": false}},
      "y2": {"field": "lo"}
     }},
    {"data": {"name": "H"},
     "mark": {"type": "line", "stroke": "#3D6897", "strokeWidth": 1, "interpolate": "monotone"},
     "encoding": {
      "x": {"field": "Q", "type": "quantitative", "scale": {"domain": [0, 169], "nice": false}},
      "y": {"field": "H", "type": "quantitative", "scale": {"domain": [0, 350], "nice": false}},
      "detail": {"field": "s", "type": "nominal"}
     }},
    {"data": {"name": "H"}, "transform": [{"filter": "datum.op == 1"}],
     "mark": {"type": "line", "stroke": "#0D4A8B", "strokeWidth": 2.5, "interpolate": "monotone"},
     "encoding": {
      "x": {"field": "Q", "type": "quantitative", "scale": {"domain": [0, 169], "nice": false}},
      "y": {"field": "H", "type": "quantitative", "scale": {"domain": [0, 350], "nice": false}},
      "detail": {"field": "s", "type": "nominal"}
     }},
    {"data": {"name": "labels"},
     "mark": {"type": "text", "align": "center", "baseline": "middle", "fontSize": 15, "color": "#000"},
     "encoding": {
      "x": {"field": "Q", "type": "quantitative", "scale": {"domain": [0, 169], "nice": false}},
      "y": {"field": "H", "type": "quantitative", "scale": {"domain": [0, 350], "nice": false}},
      "text": {"field": "t"}
     }},
    {"data": {"values": [{}]},
     "mark": {"type": "rect", "fill": "white"},
     "encoding": {
      "x": {"datum": 126.9, "type": "quantitative"}, "x2": {"datum": 168.9},
      "y": {"datum": 290, "type": "quantitative"}, "y2": {"datum": 349.5}
     }},
    {"data": {"values": [{}]},
     "mark": {"type": "text", "text": ["Pumped liquid = Water", "Liquid temperature during operation = 68 °F", "Density = 62.29 lb/ft³"], "align": "left", "baseline": "middle", "lineHeight": 24, "fontSize": 15, "color": "#000"},
     "encoding": {
      "x": {"datum": 127.4, "type": "quantitative"},
      "y": {"datum": 325.3, "type": "quantitative"}
     }},
    {"data": {"values": [{}]},
     "mark": {"type": "rect", "fill": "white", "stroke": "#808080", "strokeWidth": 1},
     "encoding": {
      "x": {"datum": 149.9, "type": "quantitative"}, "x2": {"datum": 169},
      "y": {"datum": 333.7, "type": "quantitative"}, "y2": {"datum": 350}
     }},
    {"data": {"values": [{}]},
     "mark": {"type": "text", "text": "CRE 20-4, 3*500 V", "align": "center", "baseline": "middle", "fontSize": 15, "color": "#000"},
     "encoding": {
      "x": {"datum": 159.5, "type": "quantitative"},
      "y": {"datum": 343.2, "type": "quantitative"}
     }}
   ]},
   {"layer": [
    {"data": {"name": "eta"}, "transform": [{"filter": "datum.k == 'pump'"}],
     "mark": {"type": "line", "stroke": "#333333", "strokeWidth": 0.8, "interpolate": "monotone"},
     "encoding": {
      "x": {"field": "Q", "type": "quantitative", "scale": {"domain": [0, 169], "nice": false}},
      "y": {"field": "e", "type": "quantitative", "scale": {"domain": [0, 140], "nice": false},
            "axis": {"orient": "right", "values": [0,20,40,60,80,100], "grid": false, "title": ["eta", "[%]"], "titleAngle": 0, "titleX": 22, "titleY": 1.5, "titleAlign": "center", "titleBaseline": "top", "titleLineHeight": 18}},
      "detail": {"field": "s", "type": "nominal"}
     }},
    {"data": {"name": "eta"}, "transform": [{"filter": "datum.k == 'total'"}],
     "mark": {"type": "line", "stroke": "#000000", "strokeWidth": 2.2, "interpolate": "monotone"},
     "encoding": {
      "x": {"field": "Q", "type": "quantitative", "scale": {"domain": [0, 169], "nice": false}},
      "y": {"field": "e", "type": "quantitative", "scale": {"domain": [0, 140], "nice": false}},
      "detail": {"field": "s", "type": "nominal"}
     }}
   ]}
  ]
 },
 {
  "width": 1295, "height": 307,
  "resolve": {"scale": {"y": "independent"}},
  "layer": [
   {"layer": [
    {"data": {"name": "botArea"}, "transform": [{"filter": "datum.z == 'grey'"}],
     "mark": {"type": "area", "color": "#C4C4C4"},
     "encoding": {
      "x": {"field": "Q", "type": "quantitative", "scale": {"domain": [0, 169], "nice": false, "zero": false},
            "axis": {"values": [0,10,20,30,40,50,60,70,80,90,100,110,120,130,140,150,160], "labels": false, "ticks": false, "grid": true, "title": null}},
      "y": {"field": "hi", "type": "quantitative", "scale": {"domain": [0, 14], "nice": false},
            "axis": {"values": [0,2,4,6,8,10,12], "labelExpr": "datum.value == 12 ? '' : datum.label", "grid": true, "title": ["P", "[HP]"], "titleAngle": 0, "titleX": -23, "titleY": 0, "titleAlign": "center", "titleBaseline": "top", "titleLineHeight": 18}},
      "y2": {"field": "lo"}
     }},
    {"data": {"name": "botArea"}, "transform": [{"filter": "datum.z == 'light'"}],
     "mark": {"type": "area", "color": "#EBF4FD", "opacity": 0.85, "interpolate": "monotone"},
     "encoding": {
      "x": {"field": "Q", "type": "quantitative", "scale": {"domain": [0, 169], "nice": false}},
      "y": {"field": "hi", "type": "quantitative", "scale": {"domain": [0, 14], "nice": false}},
      "y2": {"field": "lo"}
     }},
    {"data": {"name": "botArea"}, "transform": [{"filter": "datum.z == 'dark'"}],
     "mark": {"type": "area", "color": "#C7D6E3", "opacity": 0.85, "interpolate": "monotone"},
     "encoding": {
      "x": {"field": "Q", "type": "quantitative", "scale": {"domain": [0, 169], "nice": false}},
      "y": {"field": "hi", "type": "quantitative", "scale": {"domain": [0, 14], "nice": false}},
      "y2": {"field": "lo"}
     }},
    {"data": {"name": "P"},
     "mark": {"type": "line", "stroke": "#3D6897", "strokeWidth": 1.1, "interpolate": "monotone"},
     "encoding": {
      "x": {"field": "Q", "type": "quantitative", "scale": {"domain": [0, 169], "nice": false}},
      "y": {"field": "P", "type": "quantitative", "scale": {"domain": [0, 14], "nice": false}},
      "detail": [{"field": "s", "type": "nominal"}, {"field": "k", "type": "nominal"}]
     }},
    {"data": {"name": "P"}, "transform": [{"filter": "datum.op == 1 && datum.k == 'P1'"}],
     "mark": {"type": "line", "stroke": "#0D4A8B", "strokeWidth": 2.5, "interpolate": "monotone"},
     "encoding": {
      "x": {"field": "Q", "type": "quantitative", "scale": {"domain": [0, 169], "nice": false}},
      "y": {"field": "P", "type": "quantitative", "scale": {"domain": [0, 14], "nice": false}},
      "detail": {"field": "s", "type": "nominal"}
     }},
    {"data": {"name": "plabels"},
     "mark": {"type": "text", "align": "left", "baseline": "middle", "fontSize": 15, "color": "#1F5C9E"},
     "encoding": {
      "x": {"field": "Q", "type": "quantitative", "scale": {"domain": [0, 169], "nice": false}},
      "y": {"field": "P", "type": "quantitative", "scale": {"domain": [0, 14], "nice": false}},
      "text": {"field": "t"}
     }}
   ]},
   {"layer": [
    {"data": {"name": "npsh"},
     "mark": {"type": "line", "stroke": "#000000", "strokeWidth": 2, "interpolate": "monotone"},
     "encoding": {
      "x": {"field": "Q", "type": "quantitative", "scale": {"domain": [0, 169], "nice": false}},
      "y": {"field": "N", "type": "quantitative", "scale": {"domain": [0, 70], "nice": false},
            "axis": {"orient": "right", "values": [0,10,20,30,40,50,60], "labelExpr": "datum.value == 60 ? '' : datum.label", "grid": false, "title": ["NPSH", "[ft]"], "titleAngle": 0, "titleX": 30, "titleY": 0, "titleAlign": "center", "titleBaseline": "top", "titleLineHeight": 18}},
      "detail": {"field": "s", "type": "nominal"}
     }}
   ]}
  ]
 }
]
}
